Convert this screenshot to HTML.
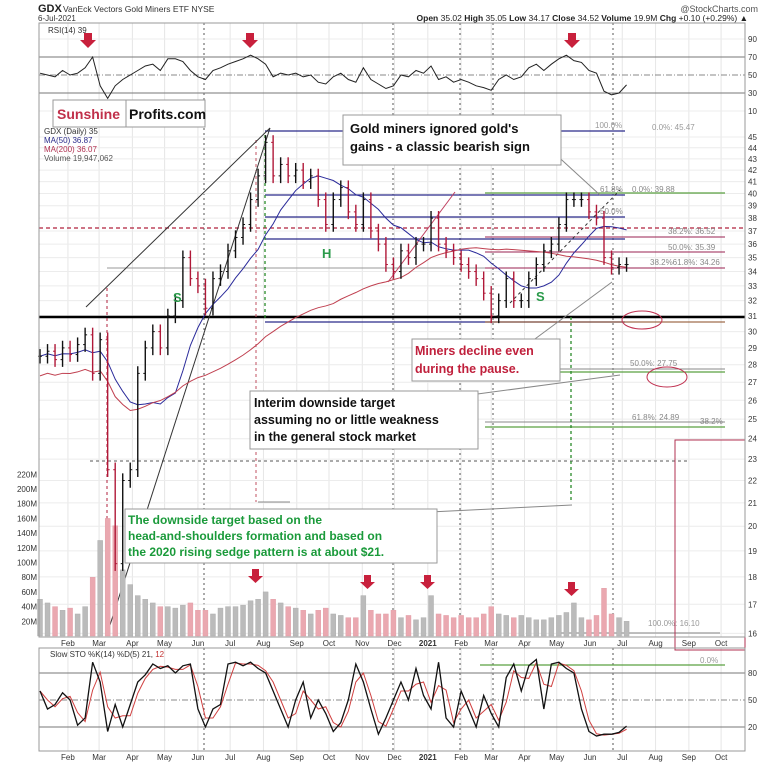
<!DOCTYPE html>
<html><head><meta charset="utf-8">
<style>
body{margin:0;background:#fff;width:765px;height:765px;overflow:hidden;font-family:"Liberation Sans",sans-serif}
svg text{font-family:"Liberation Sans",sans-serif}
</style></head>
<body>
<svg id="chart" width="765" height="765" xmlns="http://www.w3.org/2000/svg">
<rect x="0" y="0" width="765" height="765" fill="#fff"/>
<g id="grid"></g>
<g id="annot-back">
  <line x1="39" y1="317" x2="745" y2="317" stroke="#000" stroke-width="2.5"/>
  <line x1="39" y1="228" x2="745" y2="228" stroke="#b0203c" stroke-width="1.3" stroke-dasharray="4,3"/>
  <line x1="265" y1="131" x2="625" y2="131" stroke="#2a2a8a" stroke-width="1.2"/>
  <line x1="265" y1="195" x2="625" y2="195" stroke="#2a2a8a" stroke-width="1.2"/>
  <line x1="265" y1="217" x2="625" y2="217" stroke="#2a2a8a" stroke-width="1.2"/>
  <line x1="265" y1="239" x2="625" y2="239" stroke="#2a2a8a" stroke-width="1.2"/>
  <line x1="265" y1="322" x2="625" y2="322" stroke="#2a2a8a" stroke-width="1.2"/>
  <line x1="107" y1="268" x2="625" y2="268" stroke="#999" stroke-width="1"/>
  <line x1="485" y1="193" x2="725" y2="193" stroke="#5aa040" stroke-width="1.2"/>
  <line x1="485" y1="237" x2="725" y2="237" stroke="#9a2050" stroke-width="1"/>
  <line x1="485" y1="252" x2="725" y2="252" stroke="#9a2050" stroke-width="1"/>
  <line x1="485" y1="268" x2="725" y2="268" stroke="#9a2050" stroke-width="1"/>
  <line x1="485" y1="322" x2="725" y2="322" stroke="#8a4a20" stroke-width="1"/>
  <line x1="485" y1="369" x2="725" y2="369" stroke="#888" stroke-width="1"/>
  <line x1="485" y1="372" x2="725" y2="372" stroke="#5aa040" stroke-width="1.2"/>
  <line x1="485" y1="422" x2="725" y2="422" stroke="#888" stroke-width="1"/>
  <line x1="485" y1="427" x2="725" y2="427" stroke="#5aa040" stroke-width="1.2"/>
  <line x1="90" y1="461" x2="690" y2="461" stroke="#777" stroke-width="1.3" stroke-dasharray="3,3"/>
  <line x1="265" y1="135" x2="265" y2="320" stroke="#2a8a2a" stroke-width="1.3" stroke-dasharray="3,3"/>
  <line x1="571" y1="317" x2="571" y2="502" stroke="#2a8a2a" stroke-width="1.3" stroke-dasharray="3,3"/>
  <line x1="256" y1="140" x2="256" y2="502" stroke="#c05060" stroke-width="1" stroke-dasharray="3,3"/>
  <line x1="107" y1="288" x2="107" y2="630" stroke="#b0203c" stroke-width="1" stroke-dasharray="3,3"/>
  <line x1="86" y1="307" x2="270" y2="128" stroke="#333" stroke-width="1"/>
  <line x1="110" y1="625" x2="270" y2="128" stroke="#333" stroke-width="1"/>
  <line x1="388" y1="282" x2="455" y2="192" stroke="#c04060" stroke-width="1"/>
  <line x1="510" y1="303" x2="620" y2="190" stroke="#333" stroke-width="1" stroke-dasharray="3,3"/>
  <line x1="480" y1="665" x2="725" y2="665" stroke="#5aa040" stroke-width="1.3"/>
  <line x1="560" y1="633" x2="720" y2="633" stroke="#aaa" stroke-width="1.5"/>
  <text x="652" y="130" font-size="8" fill="#999">0.0%: 45.47</text>
  <text x="595" y="128" font-size="8" fill="#999">100.0%</text>
  <text x="600" y="192" font-size="8" fill="#888">61.8%</text>
  <text x="632" y="192" font-size="8" fill="#888">0.0%: 39.88</text>
  <text x="600" y="214" font-size="8" fill="#888">50.0%</text>
  <text x="668" y="234" font-size="8" fill="#888">38.2%: 36.52</text>
  <text x="668" y="250" font-size="8" fill="#888">50.0%: 35.39</text>
  <text x="650" y="265" font-size="8" fill="#888">38.2%61.8%: 34.26</text>
  <text x="630" y="366" font-size="8" fill="#888">50.0%: 27.75</text>
  <text x="632" y="420" font-size="8" fill="#888">61.8%: 24.89</text>
  <text x="700" y="424" font-size="8" fill="#888">38.2%</text>
  <text x="648" y="626" font-size="8" fill="#999">100.0%: 16.10</text>
  <text x="700" y="663" font-size="8" fill="#999">0.0%</text>
  <ellipse cx="642" cy="320" rx="20" ry="9" fill="none" stroke="#c03050" stroke-width="1"/>
  <ellipse cx="667" cy="377" rx="20" ry="10" fill="none" stroke="#c03050" stroke-width="1"/>
  <rect x="675" y="440" width="70" height="210" fill="none" stroke="#b03050" stroke-width="1"/>
</g>
<g id="vol"></g>
<g id="ma"></g>
<g id="price"></g>
<g id="rsi"></g>
<g id="sto"></g>
<g id="axes"></g>
<g>
  <rect x="39" y="23" width="706" height="614" fill="none" stroke="#999"/>
  <rect x="39" y="648" width="706" height="103" fill="none" stroke="#999"/>
</g>
<g>
  <text x="38" y="12" font-size="11" font-weight="bold" fill="#222">GDX</text>
  <text x="63" y="12" font-size="8.5" fill="#333">VanEck Vectors Gold Miners ETF  NYSE</text>
  <text x="38" y="21" font-size="8" fill="#333">6-Jul-2021</text>
  <text x="758" y="12" font-size="9" fill="#555" text-anchor="end">@StockCharts.com</text>
  <text x="748" y="21" font-size="8.5" fill="#222" text-anchor="end"><tspan font-weight="bold">Open</tspan> 35.02 <tspan font-weight="bold">High</tspan> 35.05 <tspan font-weight="bold">Low</tspan> 34.17 <tspan font-weight="bold">Close</tspan> 34.52 <tspan font-weight="bold">Volume</tspan> 19.9M <tspan font-weight="bold">Chg</tspan> +0.10 (+0.29%) ▲</text>
  <text x="48" y="33" font-size="8" fill="#333">RSI(14) 39</text>
  <text x="44" y="134" font-size="8" fill="#333">GDX (Daily) 35</text>
  <text x="44" y="143" font-size="8" fill="#2a2a8a">MA(50) 36.87</text>
  <text x="44" y="152" font-size="8" fill="#b03050">MA(200) 36.07</text>
  <text x="44" y="161" font-size="8" fill="#555">Volume 19,947,062</text>
  <text x="50" y="657" font-size="8" fill="#333">Slow STO %K(14) %D(5) 21, <tspan fill="#c03030">12</tspan></text>
</g>
<g>
  <polygon points="84,33 92,33 92,40 96,40 88,48 80,40 84,40" fill="#c8203c"/>
  <polygon points="246,33 254,33 254,40 258,40 250,48 242,40 246,40" fill="#c8203c"/>
  <polygon points="568,33 576,33 576,40 580,40 572,48 564,40 568,40" fill="#c8203c"/>
  <polygon points="252,569 259,569 259,576 263,576 255.5,583 248,576 252,576" fill="#c8203c"/>
  <polygon points="364,575 371,575 371,582 375,582 367.5,589 360,582 364,582" fill="#c8203c"/>
  <polygon points="424,575 431,575 431,582 435,582 427.5,589 420,582 424,582" fill="#c8203c"/>
  <polygon points="568,582 575,582 575,589 579,589 571.5,596 564,589 568,589" fill="#c8203c"/>
</g>
<g>
  <text x="173" y="302" font-size="13" font-weight="bold" fill="#2a9a4a">S</text>
  <text x="322" y="258" font-size="13" font-weight="bold" fill="#2a9a4a">H</text>
  <text x="536" y="301" font-size="13" font-weight="bold" fill="#2a9a4a">S</text>
</g>
<g>
  <line x1="540" y1="140" x2="600" y2="195" stroke="#888"/>
  <line x1="520" y1="350" x2="612" y2="282" stroke="#888"/>
  <line x1="470" y1="395" x2="620" y2="375" stroke="#888"/>
  <line x1="430" y1="512" x2="572" y2="505" stroke="#888"/>
  <line x1="290" y1="502" x2="258" y2="502" stroke="#888"/>
  <g>
    <rect x="53" y="100" width="152" height="27" fill="#fff" stroke="#999"/>
    <line x1="126" y1="100" x2="126" y2="127" stroke="#999"/>
    <text x="57" y="119" font-size="14" font-weight="bold" fill="#c0304a">Sunshine</text>
    <text x="129" y="119" font-size="14" font-weight="bold" fill="#111">Profits.com</text>
  </g>
  <rect x="343" y="115" width="218" height="50" fill="#fff" stroke="#999"/>
  <text x="350" y="133" font-size="13" font-weight="bold" fill="#111">Gold miners ignored gold's</text>
  <text x="350" y="151" font-size="13" font-weight="bold" fill="#111">gains - a classic bearish sign</text>
  <rect x="412" y="339" width="148" height="42" fill="#fff" stroke="#999"/>
  <text x="415" y="355" font-size="12.5" font-weight="bold" fill="#c0203c">Miners decline even</text>
  <text x="415" y="373" font-size="12.5" font-weight="bold" fill="#c0203c">during the pause.</text>
  <rect x="250" y="391" width="228" height="58" fill="#fff" stroke="#999"/>
  <text x="254" y="407" font-size="12.5" font-weight="bold" fill="#111">Interim downside target</text>
  <text x="254" y="424" font-size="12.5" font-weight="bold" fill="#111">assuming no or little weakness</text>
  <text x="254" y="441" font-size="12.5" font-weight="bold" fill="#111">in the general stock market</text>
  <rect x="125" y="509" width="312" height="54" fill="#fff" stroke="#999"/>
  <text x="128" y="524" font-size="12" font-weight="bold" fill="#1a9a3a">The downside target based on the</text>
  <text x="128" y="540" font-size="12" font-weight="bold" fill="#1a9a3a">head-and-shoulders formation and based on</text>
  <text x="128" y="556" font-size="12" font-weight="bold" fill="#1a9a3a">the 2020 rising sedge pattern is at about $21.</text>
</g>
</svg>
<script>
// Weekly data, week 0 = 6-Jan-2020
const closes = [28.5,28.8,28.3,29.0,28.6,29.2,29.8,27.5,29.5,22.5,18.5,22.0,22.5,27.5,29.0,30.0,29.0,31.0,32.0,35.0,33.5,33.0,31.5,33.5,34.0,35.5,36.5,37.5,39.5,41.5,44.5,41.5,42.5,41.5,42.0,41.0,41.5,39.5,37.5,39.5,40.5,38.5,37.5,39.5,37.0,36.0,34.5,34.0,35.5,35.0,36.0,36.0,38.0,36.0,35.5,35.0,34.5,34.0,33.5,32.5,31.0,32.0,33.5,32.0,32.0,33.5,34.5,35.5,36.0,37.5,39.5,39.5,39.5,38.5,38.0,35.0,34.3,34.5,34.5];
const rsiVals = [52,50,48,55,50,52,58,70,38,24,38,45,50,55,60,62,55,68,68,65,55,48,45,55,58,62,65,68,72,68,62,48,52,50,52,48,50,42,40,48,52,45,42,58,45,40,35,38,50,48,55,52,60,45,48,42,45,42,38,36,33,45,50,45,48,58,62,55,62,68,72,66,64,55,52,32,28,30,39];
const stoK = [60,40,45,58,50,22,30,92,70,15,45,20,45,70,78,90,85,88,80,88,90,40,20,40,45,90,92,88,92,85,80,60,40,20,50,70,30,50,35,15,25,50,90,70,40,12,30,50,70,50,85,55,40,92,30,20,60,40,20,55,35,20,75,90,60,88,95,40,90,92,85,80,40,15,10,12,12,14,21];
const volumes = [50,45,40,35,38,30,40,80,130,160,150,90,70,55,50,45,40,40,38,42,45,35,35,30,38,40,40,42,48,50,60,50,45,40,38,35,30,35,38,30,28,25,25,55,35,30,30,35,25,28,22,25,55,30,28,25,28,25,25,30,40,30,28,25,28,25,22,22,25,28,32,45,25,22,28,65,30,25,20];
const priceTicks = [16,17,18,19,20,21,22,23,24,25,26,27,28,29,30,31,32,33,34,35,36,37,38,39,40,41,42,43,44,45];
const rsiTicks = [90,70,50,30,10];
const stoTicks = [80,50,20];
const volTicks = [20,40,60,80,100,120,140,160,180,200,220];
const monthLabels = ["Feb","Mar","Apr","May","Jun","Jul","Aug","Sep","Oct","Nov","Dec","2021","Feb","Mar","Apr","May","Jun","Jul","Aug","Sep","Oct"];
const monthDays = [26,55,86,116,147,177,208,239,269,300,330,361,392,420,451,481,512,542,573,604,634];

const NS="http://www.w3.org/2000/svg";
const xW = i => 40 + i*7.52;
const xD = d => 40 + d/7*7.52;
const yP = p => 137 + (Math.log(45)-Math.log(p))*480;
const yR = v => 75 - (v-50)*0.9;
const yS = v => 700 - (v-50)*0.9;
const yV = m => 636 - m*0.735;
function mk(tag, attrs, parent){const e=document.createElementNS(NS,tag);for(const k in attrs)e.setAttribute(k,attrs[k]);parent.appendChild(e);return e;}
const grid=document.getElementById('grid'), axes=document.getElementById('axes');

monthDays.forEach((d,i)=>{
  const x=xD(d);
  const l1=mk('line',{x1:x,y1:23,x2:x,y2:637,stroke:'#e6e6e6'},grid);
  
  
  mk('line',{x1:x,y1:648,x2:x,y2:751,stroke:'#e6e6e6'},grid);
  const bold = monthLabels[i]==='2021';
  const t1=mk('text',{x:x,y:646,'font-size':8,'text-anchor':'middle',fill:'#333','font-weight':bold?'bold':'normal'},axes);
  t1.textContent=monthLabels[i];
  
  
  const t2=mk('text',{x:x,y:760,'font-size':8,'text-anchor':'middle',fill:'#333','font-weight':bold?'bold':'normal'},axes);
  t2.textContent=monthLabels[i];
  
  
});
[204,393,460,493,613].forEach(x=>{
  mk('line',{x1:x,y1:23,x2:x,y2:637,stroke:'#555','stroke-dasharray':'2,3'},grid);
  mk('line',{x1:x,y1:648,x2:x,y2:751,stroke:'#555','stroke-dasharray':'2,3'},grid);
});
priceTicks.forEach(p=>{
  mk('line',{x1:39,y1:yP(p),x2:745,y2:yP(p),stroke:'#ececec'},grid);
  const t=mk('text',{x:748,y:yP(p)+3,'font-size':8,fill:'#333'},axes);
  t.textContent=p;
  
  
});
rsiTicks.forEach(v=>{
  const st = v===50?{stroke:'#888','stroke-dasharray':'6,2,1,2'}:(v===70||v===30?{stroke:'#777'}:{stroke:'#ececec'});
  mk('line',Object.assign({x1:39,y1:yR(v),x2:745,y2:yR(v)},st),grid);
  const t=mk('text',{x:748,y:yR(v)+3,'font-size':8,fill:'#333'},axes);
  t.textContent=v;
  
  
});
stoTicks.forEach(v=>{
  const st = v===50?{stroke:'#888','stroke-dasharray':'6,2,1,2'}:{stroke:'#777'};
  mk('line',Object.assign({x1:39,y1:yS(v),x2:745,y2:yS(v)},st),grid);
  const t=mk('text',{x:748,y:yS(v)+3,'font-size':8,fill:'#333'},axes);
  t.textContent=v;
  
  
});
volTicks.forEach(m=>{
  const t=mk('text',{x:37,y:yV(m)+3,'font-size':8,fill:'#333','text-anchor':'end'},axes);
  t.textContent=m+'M';
  
  
});

// volume
const vg=document.getElementById('vol');
volumes.forEach((m,i)=>{
  const up = i===0 || closes[i]>=closes[i-1];
  const r=mk('rect',{x:xW(i)-2.5,y:yV(m),width:5,height:636-yV(m),fill:up?'#bbbbbb':'#eaa8b0',stroke:up?'#aaa':'#e09aa4',"stroke-width":0.4},vg);
  
  
});
// price bars
const pg=document.getElementById('price');
closes.forEach((c,i)=>{
  const o = i===0?c:closes[i-1];
  const hi=Math.max(o,c)*1.015, lo=Math.min(o,c)*0.985;
  const col = c<o?'#b01838':'#111';
  const l=mk('line',{x1:xW(i),y1:yP(hi),x2:xW(i),y2:yP(lo),stroke:col,'stroke-width':1.4},pg);
  
  
  mk('line',{x1:xW(i)-2,y1:yP(o),x2:xW(i),y2:yP(o),stroke:col},pg);
  mk('line',{x1:xW(i),y1:yP(c),x2:xW(i)+2,y2:yP(c),stroke:col},pg);
});
// moving averages
function sma(arr,n){return arr.map((_,i)=>{const s=arr.slice(Math.max(0,i-n+1),i+1);return s.reduce((a,b)=>a+b,0)/s.length;});}
const mg=document.getElementById('ma');
const ma50=sma(closes,10), ma200=sma(closes,40);
const p50=mk('polyline',{points:ma50.map((v,i)=>xW(i)+','+yP(v)).join(' '),fill:'none',stroke:'#2a2a9a','stroke-width':1},mg);


const p200=mk('polyline',{points:ma200.map((v,i)=>xW(i)+','+yP(v*0.96)).join(' '),fill:'none',stroke:'#c04050','stroke-width':1},mg);


// RSI
const rg=document.getElementById('rsi');
const rl=mk('polyline',{points:rsiVals.map((v,i)=>xW(i)+','+yR(v)).join(' '),fill:'none',stroke:'#222','stroke-width':1},rg);


// Stochastic
const sg=document.getElementById('sto');
const stoD=sma(stoK,2);
const dl=mk('polyline',{points:stoD.map((v,i)=>xW(i)+','+yS(v)).join(' '),fill:'none',stroke:'#d04040','stroke-width':1},sg);


const kl=mk('polyline',{points:stoK.map((v,i)=>xW(i)+','+yS(v)).join(' '),fill:'none',stroke:'#111','stroke-width':1.3},sg);


</script>
</body></html>
